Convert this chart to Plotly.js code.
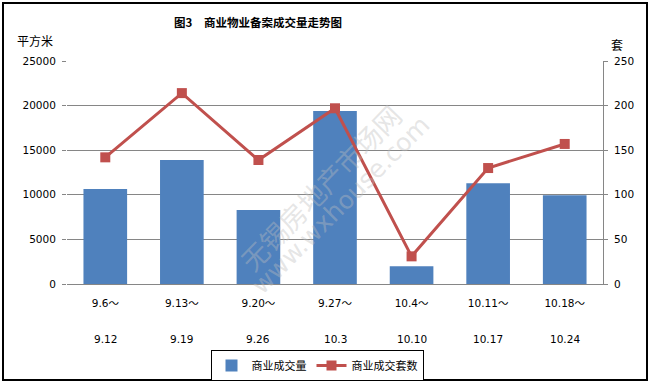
<!DOCTYPE html>
<html>
<head>
<meta charset="utf-8">
<script src="https://cdn.plot.ly/plotly-3.0.1.min.js"></script>
<style>
html,body{margin:0;padding:0;background:#fff;}
#chart{width:651px;height:384px;}
</style>
</head>
<body>
<div id="chart"></div>
<script>
var categories = ["9.6～", "9.13～", "9.20～", "9.27～", "10.4～", "10.11～", "10.18～"];
var categoryEnds = ["9.12", "9.19", "9.26", "10.3", "10.10", "10.17", "10.24"];
var areaValues = [10650, 13900, 8300, 19400, 2000, 11300, 9950];
var unitValues = [142, 214, 139, 197, 31, 130, 157];
var idx = categories.map(function(_, i){ return i; });

var cjk = '"Noto Sans CJK SC", "DejaVu Sans", sans-serif';
var num = '"DejaVu Sans", "Noto Sans CJK SC", sans-serif';

var traces = [
  {
    type: 'bar', name: '商业成交量', x: idx, y: areaValues,
    marker: {color: '#4F81BD'}, yaxis: 'y', hoverinfo: 'none'
  },
  {
    type: 'scatter', mode: 'lines+markers', name: '商业成交套数', x: idx, y: unitValues,
    yaxis: 'y2', line: {color: '#C0504D', width: 3},
    marker: {symbol: 'square', size: 10, color: '#C0504D'}, hoverinfo: 'none'
  }
];

var annotations = categoryEnds.map(function(t, i){
  return {text: t, x: i, xref: 'x', y: -0.2466, yref: 'paper', showarrow: false,
          xanchor: 'center', yanchor: 'middle', font: {family: num, size: 10.5, color: '#000'}};
});
annotations.push({text: '平方米', x: -0.0597, xref: 'paper', y: 1.094, yref: 'paper', showarrow: false,
  xanchor: 'center', yanchor: 'middle', font: {family: cjk, size: 12, color: '#000'}});
annotations.push({text: '套', x: 1.026, xref: 'paper', y: 1.076, yref: 'paper', showarrow: false,
  xanchor: 'center', yanchor: 'middle', font: {family: cjk, size: 12, color: '#000'}});
annotations.push({text: '无锡房地产市场网', x: (320-67)/536, xref: 'paper', y: (284-187)/223, yref: 'paper',
  showarrow: false, textangle: -46, font: {family: cjk, size: 27, color: 'rgba(190,190,190,0.4)'}});
annotations.push({text: 'www.wxhouse.com', x: (340-67)/536, xref: 'paper', y: (284-205)/223, yref: 'paper',
  showarrow: false, textangle: -45, font: {family: '"DejaVu Sans", sans-serif', size: 25, color: 'rgba(190,190,190,0.4)'}});

var layout = {
  width: 651, height: 384,
  margin: {l: 67, r: 48, t: 61, b: 100, autoexpand: false},
  paper_bgcolor: '#fff', plot_bgcolor: '#fff',
  showlegend: true,
  bargap: 0.43,
  title: {text: '<b>图3　商业物业备案成交量走势图</b>', xref: 'paper', x: (258-67)/536, xanchor: 'center',
          yref: 'container', y: 1 - 23/384, yanchor: 'middle',
          font: {family: cjk, size: 11.5, color: '#000'}},
  xaxis: {
    tickmode: 'array', tickvals: idx, ticktext: categories,
    range: [-0.5, 6.5], showgrid: false, zeroline: false,
    showline: true, linecolor: '#868686', linewidth: 1,
    ticks: '', ticklabelstandoff: 9,
    tickfont: {family: num, size: 10.5, color: '#000'}, fixedrange: true
  },
  yaxis: {
    range: [0, 25000], tickvals: [0, 5000, 10000, 15000, 20000, 25000], tickformat: 'd',
    showgrid: true, gridcolor: '#868686', gridwidth: 1, zeroline: false,
    showline: false, ticks: 'outside', ticklen: 4, tickcolor: '#868686',
    ticklabelstandoff: 4,
    tickfont: {family: num, size: 10.5, color: '#000'}, fixedrange: true
  },
  yaxis2: {
    range: [0, 250], tickvals: [0, 50, 100, 150, 200, 250], overlaying: 'y', side: 'right',
    showgrid: false, zeroline: false, showline: true, linecolor: '#868686', linewidth: 1,
    ticks: 'outside', ticklen: 4, tickcolor: '#868686', ticklabelstandoff: 4,
    tickfont: {family: num, size: 10.5, color: '#000'}, fixedrange: true
  },
  legend: {
    orientation: 'h', x: (317-67)/536, xanchor: 'center', y: (284-350)/223, yanchor: 'top',
    bordercolor: '#000', borderwidth: 1, bgcolor: '#fff',
    font: {family: cjk, size: 11, color: '#000'}, itemwidth: 30, tracegroupgap: 0
  },
  annotations: annotations,
  shapes: [{
    type: 'rect', xref: 'paper', yref: 'paper',
    x0: (3-67)/536, x1: (647-67)/536, y0: (284-380)/223, y1: (284-3)/223,
    line: {color: '#000', width: 2}, fillcolor: 'rgba(0,0,0,0)', layer: 'above'
  }]
};

Plotly.newPlot('chart', traces, layout, {displayModeBar: false, staticPlot: true});
</script>
</body>
</html>
